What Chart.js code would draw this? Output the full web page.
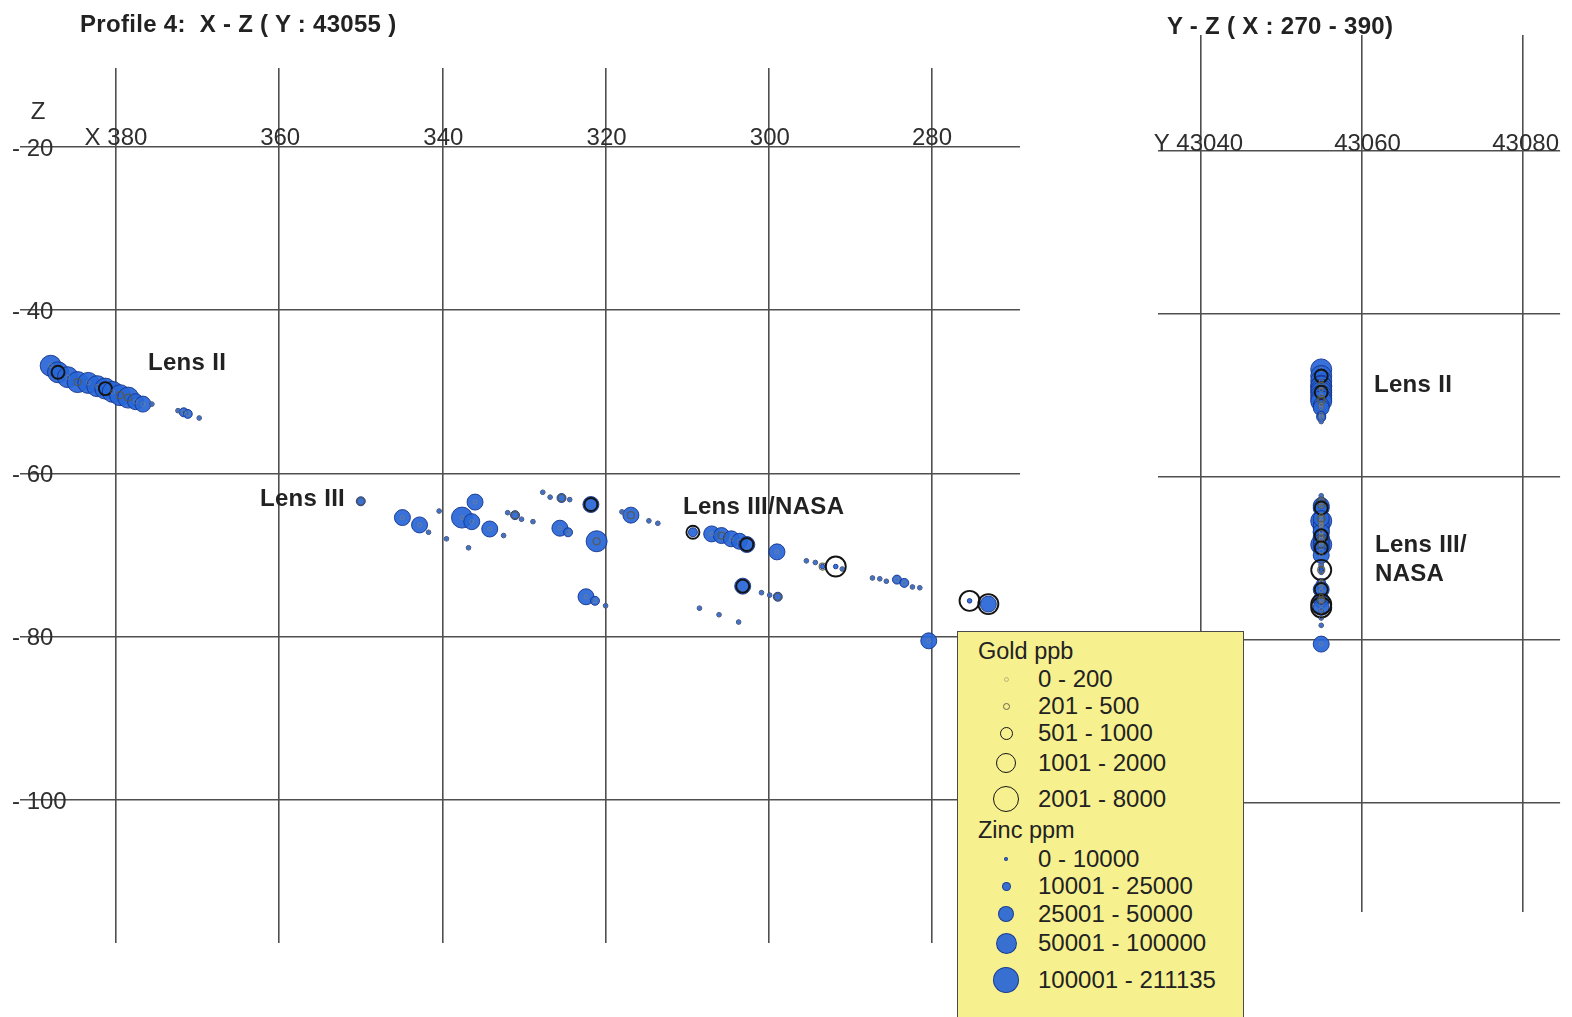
<!DOCTYPE html>
<html><head><meta charset="utf-8">
<script src="https://cdn.jsdelivr.net/npm/chart.js@4.4.1/dist/chart.umd.min.js"></script>
<style>
html,body{margin:0;padding:0;background:#fff;}
#wrap{position:relative;width:1572px;height:1017px;overflow:hidden;font-family:"Liberation Sans",Arial,Helvetica,sans-serif;}
canvas{position:absolute;left:0;top:0;}
.t{position:absolute;white-space:nowrap;line-height:1;color:#222;}
.b{font-weight:bold;letter-spacing:0.3px;}
#legend{position:absolute;left:957px;top:631px;width:285px;height:400px;background:#f6f08f;border:1.5px solid #4a4a4a;}
.sym{position:absolute;border-radius:50%;box-sizing:border-box;}
</style></head>
<body><div id="wrap">
<canvas id="c1" width="1572" height="1017"></canvas>
<canvas id="c2" width="1572" height="1017"></canvas>
</div>
<script>
// ---------- data ----------
const PROFILE_Y = 43055;
const sampleX = [388.0,387.1,385.9,384.7,383.4,382.3,381.3,380.4,379.5,378.5,377.6,376.7,375.6,372.4,371.7,371.2,369.8,
 350.0,344.9,342.8,341.7,340.4,339.5,337.6,336.4,336.0,336.8,334.2,332.5,332.0,331.1,330.3,328.9,327.7,326.8,325.4,324.4,
 321.8,325.6,324.6,321.1,322.4,321.3,320.0,318.0,316.9,314.7,313.6,309.3,307.0,305.8,304.6,303.6,302.7,299.0,295.4,294.3,
 293.4,291.8,291.0,287.3,286.4,285.6,284.3,283.4,282.4,281.5,275.4,273.1,280.4,303.2,300.9,299.9,298.9,308.5,306.1,303.7];
const sampleZ = [-46.8,-47.6,-48.2,-48.8,-48.9,-49.3,-49.6,-50.0,-50.4,-50.7,-51.2,-51.5,-51.5,-52.3,-52.5,-52.7,-53.2,
 -63.4,-65.4,-66.3,-67.2,-64.6,-68.0,-65.4,-65.9,-63.5,-69.1,-66.8,-67.6,-64.8,-65.1,-65.6,-65.9,-62.3,-62.9,-63.0,-63.2,
 -63.8,-66.7,-67.2,-68.3,-75.1,-75.6,-76.2,-64.7,-65.1,-65.8,-66.1,-67.2,-67.4,-67.6,-68.0,-68.3,-68.7,-69.6,-70.7,-70.9,
 -71.4,-71.4,-71.7,-72.8,-72.9,-73.2,-73.0,-73.4,-73.9,-74.0,-75.6,-76.0,-80.5,-73.8,-74.6,-74.9,-75.1,-76.5,-77.3,-78.2];
const zincPpm = [86000,72000,64000,58000,69000,55000,62000,59000,53000,51000,31000,27000,6000,5000,14000,17000,4500,
 15000,45000,40000,5200,4800,5500,78000,43000,31000,6100,29000,5800,4300,19000,6800,5900,4100,5300,17000,6400,
 36000,41000,13000,88000,37000,15500,4700,5600,39000,5000,4400,20000,34000,38000,42000,45000,40000,36000,5200,4900,
 6000,3800,5100,4600,5700,6200,14000,16000,5400,4800,3900,44000,47000,35000,5300,6100,18000,4700,5500,4200];
const goldPpb = [150,760,120,340,90,160,820,110,290,260,70,130,60,40,80,100,50,
 310,140,90,50,60,30,170,120,150,40,110,60,70,380,90,50,80,100,420,70,
 940,130,60,260,180,90,40,110,330,60,50,880,160,300,140,170,720,120,40,60,
 270,1600,70,30,50,40,90,110,60,50,1400,1800,150,960,70,60,350,40,50,30];

const xTickValues = [380,360,340,320,300,280];
const xTickLabels = ['X 380','360','340','320','300','280'];
const zTickValues = [-20,-40,-60,-80,-100];
const zTickLabels = ['- 20','- 40','- 60','- 80','- 100'];
const yTickValues = [43040,43060,43080];
const yTickLabels = ['Y 43040','43060','43080'];

const goldClassLabels = ['0 - 200','201 - 500','501 - 1000','1001 - 2000','2001 - 8000'];
const zincClassLabels = ['0 - 10000','10001 - 25000','25001 - 50000','50001 - 100000','100001 - 211135'];
const goldBreaks = [200,500,1000,2000];
const zincBreaks = [10000,25000,50000,100000];

// ---------- styles ----------
const GOLD_R = [2,3.5,6.5,10,13];
const ZINC_R = [2.3,4.5,8,10.5,13];
const GOLD_COL = ['rgba(140,135,110,0.55)','rgba(90,88,70,0.9)','#141414','#141414','#141414'];
const GOLD_W = [1,1.2,1.9,1.9,1.9];
const ZINC_FILL = 'rgba(40,102,214,0.93)';
const ZINC_EDGE = 'rgba(22,52,140,0.9)';
const FONT = '"Liberation Sans", Arial, Helvetica, sans-serif';

function cls(v, br){ let i=0; while(i<br.length && v>br[i]) i++; return i; }
const gC = i => cls(goldPpb[i], goldBreaks);
const zC = i => cls(zincPpm[i], zincBreaks);

const tickPlugin = {
  id:'tickText',
  afterDraw(chart, args, o){
    const ctx = chart.ctx, xs = chart.scales.x, ys = chart.scales.y;
    ctx.save();
    ctx.fillStyle = '#2e2e2e';
    ctx.font = '24px ' + FONT;
    ctx.textAlign = 'center'; ctx.textBaseline = 'alphabetic';
    o.xv.forEach((v,i)=>ctx.fillText(o.xl[i], xs.getPixelForValue(v) + o.dx[i], ys.getPixelForValue(o.at) + o.dy));
    if (o.yv){
      ctx.textAlign = 'left'; ctx.textBaseline = 'middle';
      o.yv.forEach((v,i)=>ctx.fillText(o.yl[i], o.left, ys.getPixelForValue(v) + 2));
      ctx.textAlign = 'center';
      ctx.fillText('Z', 38, 112);
    }
    ctx.restore();
  }
};

function makeChart(id, pts, xr, yr, pad, reverse, tickOpts){
  const grid = {color:'#4f4f4f', lineWidth:1.6, drawTicks:false};
  return new Chart(document.getElementById(id), {
    type:'scatter',
    data:{datasets:[
      { label:'Gold ppb', data:pts, order:0,
        pointRadius: c=>GOLD_R[gC(c.dataIndex)],
        pointBackgroundColor:'rgba(0,0,0,0)',
        pointBorderColor: c=>GOLD_COL[gC(c.dataIndex)],
        pointBorderWidth: c=>GOLD_W[gC(c.dataIndex)], clip:false },
      { label:'Zinc ppm', data:pts, order:1,
        pointRadius: c=>ZINC_R[zC(c.dataIndex)],
        pointBackgroundColor: ZINC_FILL,
        pointBorderColor: ZINC_EDGE,
        pointBorderWidth: 1, clip:false }
    ]},
    options:{
      responsive:false, maintainAspectRatio:false, animation:false, events:[],
      layout:{padding:pad},
      plugins:{legend:{display:false}, tooltip:{enabled:false}, tickText:tickOpts},
      scales:{
        x:{type:'linear', reverse:reverse, min:xr[0], max:xr[1],
           ticks:{display:false, stepSize:20, includeBounds:false},
           grid:grid, border:{display:false}, afterFit:s=>{s.height=0;}},
        y:{type:'linear', min:yr[0], max:yr[1],
           ticks:{display:false, stepSize:20, includeBounds:false},
           grid:grid, border:{display:false}, afterFit:s=>{s.width=0;}}
      }
    },
    plugins:[tickPlugin]
  });
}

const ptsXZ = sampleX.map((x,i)=>({x:x, y:sampleZ[i]}));
const ptsYZ = sampleZ.map(z=>({x:PROFILE_Y, y:z}));

makeChart('c1', ptsXZ, [269.22, 391.76], [-117.52, -10.32],
  {left:20, top:68, right:552, bottom:74}, true,
  {xv:xTickValues, xl:xTickLabels, at:-20, dx:[0,1,1,1,1,0], dy:-2, yv:zTickValues, yl:zTickLabels, left:12});
makeChart('c2', ptsYZ, [43034.74, 43084.65], [-113.37, -5.77],
  {left:1158, top:35, right:6, bottom:105}, false,
  {xv:yTickValues, xl:yTickLabels, at:-20, dx:[-2,6,3], dy:0});

// ---------- text & legend ----------
const wrap = document.getElementById('wrap');
function txt(s, x, base, size, bold){
  const d = document.createElement('div');
  d.className = 't' + (bold ? ' b' : '');
  d.textContent = s;
  d.style.fontSize = size + 'px';
  d.style.left = x + 'px';
  d.style.top = (base - 0.8465*size) + 'px';
  wrap.appendChild(d);
  return d;
}
txt('Profile 4:\u00a0 X - Z ( Y : 43055 )', 80, 32, 24, true);
txt('Y - Z ( X : 270 - 390)', 1167, 34, 24, true);
txt('Lens II', 148, 370, 24, true);
txt('Lens III', 260, 506, 24, true);
txt('Lens III/NASA', 683, 514, 24, true);
txt('Lens II', 1374, 392, 24, true);
txt('Lens III/', 1375, 552, 24, true);
txt('NASA', 1375, 581, 24, true);

const lg = document.createElement('div'); lg.id = 'legend'; wrap.appendChild(lg);
txt('Gold ppb', 978, 660, 23.5, false);
txt('Zinc ppm', 978, 839, 23.5, false);
const goldRows = [679,706,733,763,799];
const zincRows = [859,886,914,943,980];
function sym(cx, cy, r, fill, edge, w){
  const d = document.createElement('div');
  d.className = 'sym';
  d.style.left = (cx - r) + 'px'; d.style.top = (cy - r) + 'px';
  d.style.width = 2*r + 'px'; d.style.height = 2*r + 'px';
  d.style.background = fill; d.style.border = w + 'px solid ' + edge;
  wrap.appendChild(d);
}
goldClassLabels.forEach((s,i)=>{
  sym(1006, goldRows[i], GOLD_R[i] + (i===0?0.5:0), 'transparent', GOLD_COL[i], GOLD_W[i]);
  txt(s, 1038, goldRows[i] + 8.5, 24, false);
});
zincClassLabels.forEach((s,i)=>{
  sym(1006, zincRows[i], ZINC_R[i], ZINC_FILL, ZINC_EDGE, 1);
  txt(s, 1038, zincRows[i] + 8.5, 24, false);
});
</script>
</body></html>
